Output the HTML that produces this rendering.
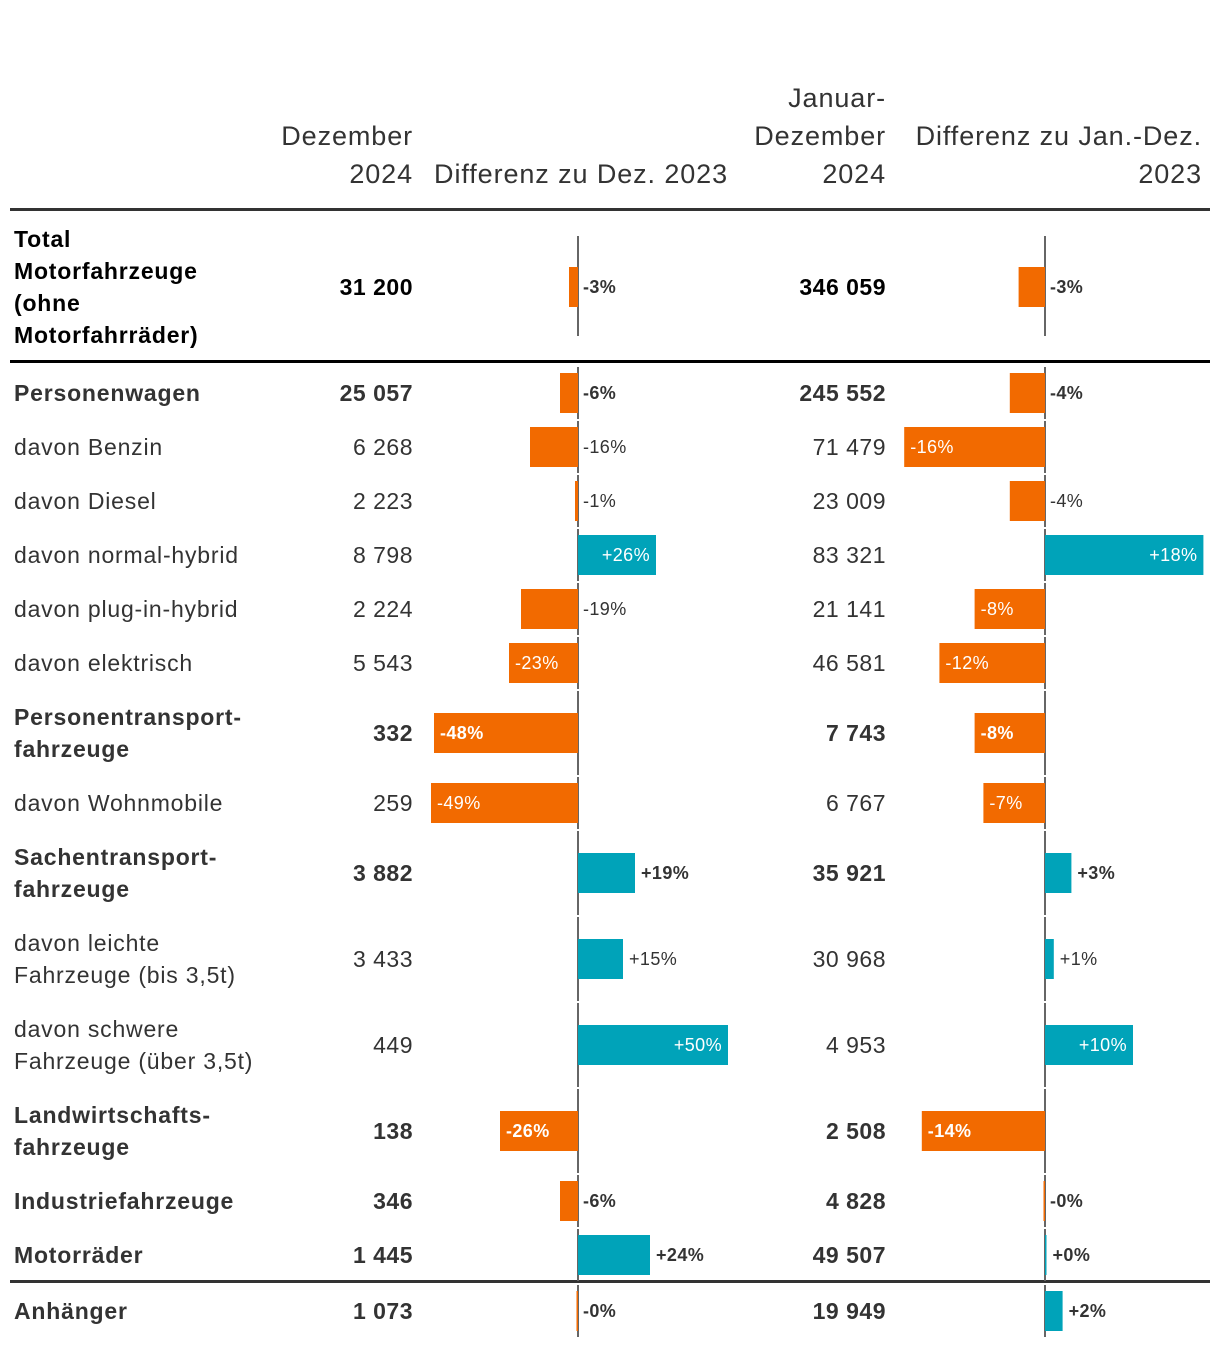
<!DOCTYPE html>
<html><head><meta charset="utf-8"><style>
body{margin:0;background:#fff}
svg{display:block;font-family:"Liberation Sans",sans-serif}
</style></head><body>
<svg id="chart" width="1220" height="1346">
<g fill="#333" font-size="27" letter-spacing="0.9">
<text x="413" y="145" text-anchor="end">Dezember</text>
<text x="413" y="183" text-anchor="end">2024</text>
<text x="728" y="183" text-anchor="end">Differenz zu Dez. 2023</text>
<text x="886" y="107" text-anchor="end">Januar-</text>
<text x="886" y="145" text-anchor="end">Dezember</text>
<text x="886" y="183" text-anchor="end">2024</text>
<text x="1202" y="145" text-anchor="end">Differenz zu Jan.-Dez.</text>
<text x="1202" y="183" text-anchor="end">2023</text>
</g>
<rect x="10" y="208" width="1200" height="3" fill="#333"/>
<rect x="10" y="360" width="1200" height="3" fill="#000"/>
<rect x="10" y="1280" width="1200" height="3" fill="#333"/>
<g id="rows"></g>
</svg>
<script>
const labels=[["Total","Motorfahrzeuge","(ohne","Motorfahrräder)"],["Personenwagen"],["davon Benzin"],["davon Diesel"],["davon normal-hybrid"],["davon plug-in-hybrid"],["davon elektrisch"],["Personentransport-","fahrzeuge"],["davon Wohnmobile"],["Sachentransport-","fahrzeuge"],["davon leichte","Fahrzeuge (bis 3,5t)"],["davon schwere","Fahrzeuge (über 3,5t)"],["Landwirtschafts-","fahrzeuge"],["Industriefahrzeuge"],["Motorräder"],["Anhänger"]];
const bold=[1,1,0,0,0,0,0,1,0,1,0,0,1,1,1,1];
const decValues=["31 200","25 057","6 268","2 223","8 798","2 224","5 543","332","259","3 882","3 433","449","138","346","1 445","1 073"];
const decDiff=[-3,-6,-16,-1,26,-19,-23,-48,-49,19,15,50,-26,-6,24,-0.2];
const decDiffLabels=["-3%","-6%","-16%","-1%","+26%","-19%","-23%","-48%","-49%","+19%","+15%","+50%","-26%","-6%","+24%","-0%"];
const ytdValues=["346 059","245 552","71 479","23 009","83 321","21 141","46 581","7 743","6 767","35 921","30 968","4 953","2 508","4 828","49 507","19 949"];
const ytdDiff=[-3,-4,-16,-4,18,-8,-12,-8,-7,3,1,10,-14,-0.1,0.1,2];
const ytdDiffLabels=["-3%","-4%","-16%","-4%","+18%","-8%","-12%","-8%","-7%","+3%","+1%","+10%","-14%","-0%","+0%","+2%"];
const rowTops=[212,366,420,474,528,582,636,690,776,830,916,1002,1088,1174,1228,1284];
const rowH=[148,54,54,54,54,54,54,86,54,86,86,86,86,54,54,54];

const NS="http://www.w3.org/2000/svg";
const g=document.getElementById('rows');
function mk(t,a){const e=document.createElementNS(NS,t);for(const k in a)e.setAttribute(k,a[k]);return e;}
const x1=v=>578+v*3.0;
const x2=v=>1045+v*8.8;
function bar(i,cy,axis,xf,val,lab,b,top,bottom,tag){
  const ax=mk('rect',{x:axis-1,y:top,width:2,height:bottom-top,fill:'#666'});
  
  
  g.appendChild(ax);
  const xe=xf(val);let x=Math.min(axis,xe),w=Math.max(Math.abs(xe-axis),1.5);
  if(val<0)x=axis-w;
  const r=mk('rect',{x:x,y:cy-20,width:w,height:40,fill:val<0?'#f26a00':'#00a3b9'});
  
  
  g.appendChild(r);
  const inside=val<0?w>=60:w>=76;let tx,anchor='start',fill='#333';
  if(inside){fill='#fff';if(val<0){tx=x+6;}else{tx=x+w-6;anchor='end';}}
  else{tx=val<0?axis+5:x+w+6;}
  const t=mk('text',{x:tx,y:cy+6,'text-anchor':anchor,fill:fill,'font-size':18,'letter-spacing':0.4,'font-weight':b?'bold':'normal'});
  t.textContent=lab;
  
  
  g.appendChild(t);
}
for(let i=0;i<labels.length;i++){
  const top=rowTops[i],h=rowH[i],cy=top+h/2+(i==0?1:0);
  const b=bold[i],col=i==0?'#000':'#333',fw=b?'bold':'normal';
  const L=labels[i],n=L.length,lh=32;
  L.forEach((s,k)=>{
    const t=mk('text',{x:14,y:cy+8+(k-(n-1)/2)*lh,fill:col,'font-size':23,'letter-spacing':0.8,'font-weight':fw});
    t.textContent=s;
    
    
    g.appendChild(t);
  });
  const v1=mk('text',{x:413,y:cy+8,'text-anchor':'end',fill:col,'font-size':23,'letter-spacing':0.5,'font-weight':fw});
  v1.textContent=decValues[i];
  
  
  g.appendChild(v1);
  const v2=mk('text',{x:886,y:cy+8,'text-anchor':'end',fill:col,'font-size':23,'letter-spacing':0.5,'font-weight':fw});
  v2.textContent=ytdValues[i];
  
  
  g.appendChild(v2);
  const at=i==0?top+24:top+1,ab=i==0?top+h-24:top+h-1;
  bar(i,cy,578,x1,decDiff[i],decDiffLabels[i],b,at,ab,'dec-diff');
  bar(i,cy,1045,x2,ytdDiff[i],ytdDiffLabels[i],b,at,ab,'ytd-diff');
}
</script>
</body></html>
